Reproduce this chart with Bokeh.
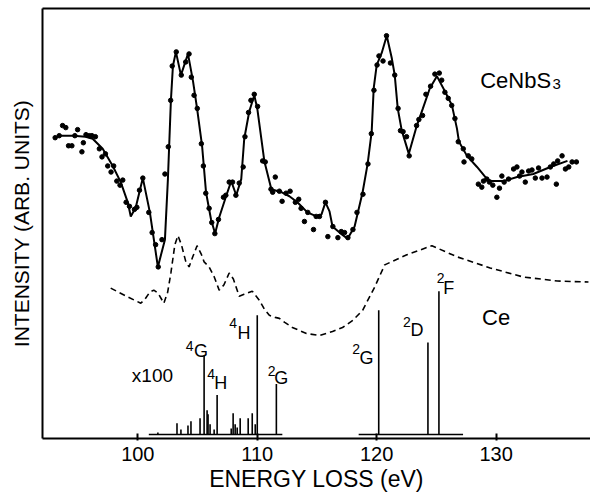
from bokeh.plotting import figure
from bokeh.models import Range1d, LinearAxis, FixedTicker, Label
from bokeh.embed import file_html
from bokeh.resources import INLINE

# ---- data (energy loss in eV, intensity in arbitrary units) ----
curve_ev = [93.11, 93.45, 94.62, 95.63, 96.22, 97.06, 97.90, 98.57, 99.16, 99.41,
            99.83, 100.42, 101.01, 101.68, 102.27, 102.52, 102.77, 102.94, 103.19, 103.61,
            104.20, 104.62, 104.96, 105.38, 105.71, 106.13, 106.47, 106.81, 107.39, 107.82,
            108.24, 108.66, 108.91, 109.33, 109.75, 110.00, 110.59, 111.18, 112.02, 112.69,
            113.36, 114.20, 114.96, 115.38, 115.71, 116.05, 116.30, 116.89, 117.56, 118.15,
            118.82, 119.24, 119.58, 119.75, 120.00, 120.42, 120.84, 121.26, 121.51, 121.76,
            122.10, 122.69, 123.36, 123.87, 124.45, 125.04, 125.71, 126.30, 126.72, 126.89,
            127.56, 128.40, 129.24, 129.66, 130.59, 131.76, 133.11, 134.54, 135.97]
curve_int = [298, 300, 300, 299, 297, 287, 270, 254, 234, 220,
             229, 258, 224, 170, 197, 257, 335, 369, 383, 360,
             381, 354, 327, 290, 244, 217, 203, 219, 240, 255,
             241, 257, 297, 324, 340, 327, 275, 247, 244, 240,
             234, 224, 220, 222, 234, 225, 210, 204, 198, 210,
             244, 272, 304, 347, 370, 382, 399, 377, 360, 327,
             305, 282, 310, 327, 347, 359, 344, 330, 307, 294,
             280, 269, 257, 255, 255, 259, 262, 269, 275]

dots_ev = [93.08, 93.42, 93.70, 93.97, 94.20, 94.48, 94.73, 94.96, 95.32, 95.44,
           95.66, 95.94, 96.16, 96.45, 96.78, 97.00, 97.29, 97.48, 97.76, 97.98,
           98.24, 98.51, 98.74, 99.02, 99.30, 99.72, 99.92, 100.14, 100.42, 100.92,
           101.20, 101.49, 101.71, 102.02, 102.27, 102.55, 102.75, 102.88, 103.22, 103.64,
           104.01, 104.29, 104.48, 104.71, 104.98, 105.32, 105.49, 105.69, 105.97, 106.19,
           106.45, 106.75, 107.17, 107.37, 107.65, 107.93, 108.21, 108.49, 108.82, 108.97,
           109.27, 109.47, 109.75, 110.03, 110.45, 110.67, 111.15, 111.29, 111.51, 111.85,
           112.08, 112.41, 112.75, 113.19, 113.47, 113.67, 113.95, 114.23, 114.71, 114.93,
           115.21, 115.71, 115.91, 116.33, 116.75, 117.03, 117.31, 117.59, 118.01, 118.35,
           118.85, 119.27, 119.55, 119.77, 120.03, 120.19, 120.53, 120.82, 121.15, 121.51,
           121.79, 121.99, 122.21, 122.50, 122.72, 123.34, 123.53, 123.84, 124.12, 124.51,
           124.87, 125.24, 125.44, 125.71, 125.99, 126.28, 126.55, 126.83, 127.25, 127.31,
           127.67, 127.96, 128.51, 128.80, 128.94, 129.22, 129.44, 129.72, 130.06, 130.28,
           130.48, 130.67, 131.04, 131.46, 131.74, 131.96, 132.16, 132.44, 132.72, 133.00,
           133.28, 133.55, 133.84, 134.26, 134.54, 134.82, 135.04, 135.15, 135.52, 135.80,
           136.08, 136.36, 136.72]
dots_int = [298, 300, 310, 308, 290, 290, 300, 306, 284, 293,
            301, 300, 300, 299, 287, 279, 282, 270, 264, 270,
            255, 251, 256, 234, 230, 227, 229, 246, 258, 224,
            204, 192, 170, 197, 262, 289, 335, 369, 383, 360,
            373, 381, 358, 340, 327, 292, 270, 243, 228, 214,
            203, 217, 239, 241, 254, 254, 241, 253, 269, 299,
            323, 335, 341, 329, 275, 274, 247, 244, 259, 245,
            235, 243, 245, 234, 237, 228, 215, 224, 207, 220,
            220, 234, 200, 210, 199, 205, 204, 199, 207, 224,
            242, 272, 302, 345, 370, 379, 374, 399, 372, 360,
            327, 305, 304, 299, 280, 310, 316, 320, 341, 349,
            361, 362, 355, 343, 337, 330, 317, 294, 287, 274,
            280, 277, 252, 249, 255, 257, 254, 251, 239, 248,
            260, 254, 257, 267, 269, 260, 264, 254, 265, 266,
            258, 268, 258, 259, 269, 272, 252, 275, 280, 267,
            269, 274, 274]

ce_ev = [97.73, 99.2, 100.25, 100.6, 101.0, 101.34, 101.7, 102.18, 102.5, 102.77,
         103.1, 103.36, 103.65, 104.0, 104.29, 104.6, 104.96, 105.3, 105.55, 105.97,
         106.4, 106.81, 107.2, 107.65, 108.0, 108.49, 108.9, 109.58, 110.17, 110.6,
         111.01, 111.5, 111.85, 112.3, 112.94, 114.12, 115.21, 116.30, 117.14, 118.0,
         118.82, 119.83, 120.67, 122.52, 124.62, 126.72, 129.50, 132.27, 135.13, 137.73]
ce_int = [149, 140, 134, 138, 145, 147, 144, 134, 145, 164,
          192, 201, 192, 176, 170, 180, 191, 183, 175, 170,
          160, 147, 152, 164, 158, 141, 143, 146, 137, 128,
          122, 120, 119, 115, 110, 104, 102, 106, 110, 117,
          127, 150, 172, 182, 191, 180, 169, 160, 156, 155]

stick_ev = [101.68, 103.28, 103.61, 104.20, 104.45, 105.21, 105.55, 105.80, 105.88, 106.05,
            106.39, 106.64, 107.82, 107.98, 108.15, 108.32, 108.57, 109.24, 109.58, 109.83,
            110.00, 111.60, 120.17, 124.29, 125.21]
stick_top = [6, 15, 9, 13, 17, 20, 82, 28, 24, 14,
             9, 43, 10, 25, 14, 11, 20, 20, 25, 14,
             122, 54, 127, 95, 146]
stick_base = 4
base_start = [100.92, 118.49]
base_end = [112.10, 127.23]

x_ticks = [100, 110, 120, 130]
x_title = "ENERGY LOSS (eV)"
y_title = "INTENSITY (ARB. UNITS)"

FONT = "Liberation Sans"

p = figure(width=590, height=494, output_backend="svg", toolbar_location=None,
           x_range=Range1d(92.02, 137.90), y_range=Range1d(0, 426),
           min_border_left=42, min_border_right=0, min_border_top=8, min_border_bottom=0,
           x_axis_location=None, y_axis_location=None)
p.grid.visible = False
p.outline_line_color = None
p.background_fill_color = "white"
p.border_fill_color = "white"

xaxis = LinearAxis(ticker=FixedTicker(ticks=x_ticks), axis_label=x_title)
xaxis.axis_line_width = 2
xaxis.axis_line_color = "black"
xaxis.major_tick_in = 5
xaxis.major_tick_out = 2
xaxis.major_tick_line_width = 2
xaxis.major_tick_line_color = "black"
xaxis.minor_tick_line_color = None
xaxis.major_label_text_font = FONT
xaxis.major_label_text_font_size = "20px"
xaxis.major_label_text_color = "black"
xaxis.major_label_standoff = 6
xaxis.axis_label_text_font = FONT
xaxis.axis_label_text_font_size = "23px"
xaxis.axis_label_text_font_style = "normal"
xaxis.axis_label_text_color = "black"
xaxis.axis_label_standoff = 2
p.add_layout(xaxis, "below")

yaxis = LinearAxis(ticker=FixedTicker(ticks=[]), axis_label=y_title)
yaxis.axis_line_width = 2
yaxis.axis_line_color = "black"
yaxis.major_tick_in = 0
yaxis.major_tick_out = 0
yaxis.minor_tick_line_color = None
yaxis.major_label_standoff = 0
yaxis.axis_label_text_font = FONT
yaxis.axis_label_text_font_size = "21px"
yaxis.axis_label_text_font_style = "normal"
yaxis.axis_label_text_color = "black"
yaxis.axis_label_standoff = 10
p.add_layout(yaxis, "left")

topaxis = LinearAxis(ticker=FixedTicker(ticks=[]))
topaxis.axis_line_width = 2
topaxis.axis_line_color = "black"
topaxis.major_tick_in = 0
topaxis.major_tick_out = 0
topaxis.minor_tick_line_color = None
topaxis.major_label_standoff = 0
p.add_layout(topaxis, "above")

# CeNbS3 measured curve
p.line(curve_ev, curve_int, line_color="black", line_width=2)
p.scatter(dots_ev, dots_int, size=4.5, color="black")

# Ce atomic curve (dashed)
p.line(ce_ev, ce_int, line_color="black", line_width=1.6, line_dash="6 4")

# stick spectrum
p.segment(x0=base_start, y0=[stick_base] * 2, x1=base_end, y1=[stick_base] * 2,
          line_color="black", line_width=1.5)
p.segment(x0=stick_ev, y0=[stick_base] * len(stick_ev), x1=stick_ev, y1=stick_top,
          line_color="black", line_width=1.6)

# text labels: (text, x, y, size)
labels = [
    ("CeNbS", 128.66, 355, "22px"), ("3", 134.71, 351, "15px"),
    ("Ce", 128.82, 120, "22px"),
    ("x100", 99.50, 62, "19px"),
    ("4", 104.01, 92, "14px"), ("G", 104.71, 87, "18px"),
    ("4", 105.82, 64, "14px"), ("H", 106.39, 55, "18px"),
    ("4", 107.65, 114, "14px"), ("H", 108.34, 105, "18px"),
    ("2", 110.87, 67, "14px"), ("G", 111.43, 60, "18px"),
    ("2", 117.96, 89, "14px"), ("G", 118.57, 80, "18px"),
    ("2", 122.21, 115, "14px"), ("D", 122.83, 107, "18px"),
    ("2", 125.02, 159, "14px"), ("F", 125.58, 149, "18px"),
]
for t, lx, ly, fs in labels:
    p.add_layout(Label(x=lx, y=ly, text=t, text_font=FONT, text_font_size=fs,
                       text_align="left", text_baseline="alphabetic", text_color="black"))

open("out.html", "w").write(file_html(p, INLINE))
